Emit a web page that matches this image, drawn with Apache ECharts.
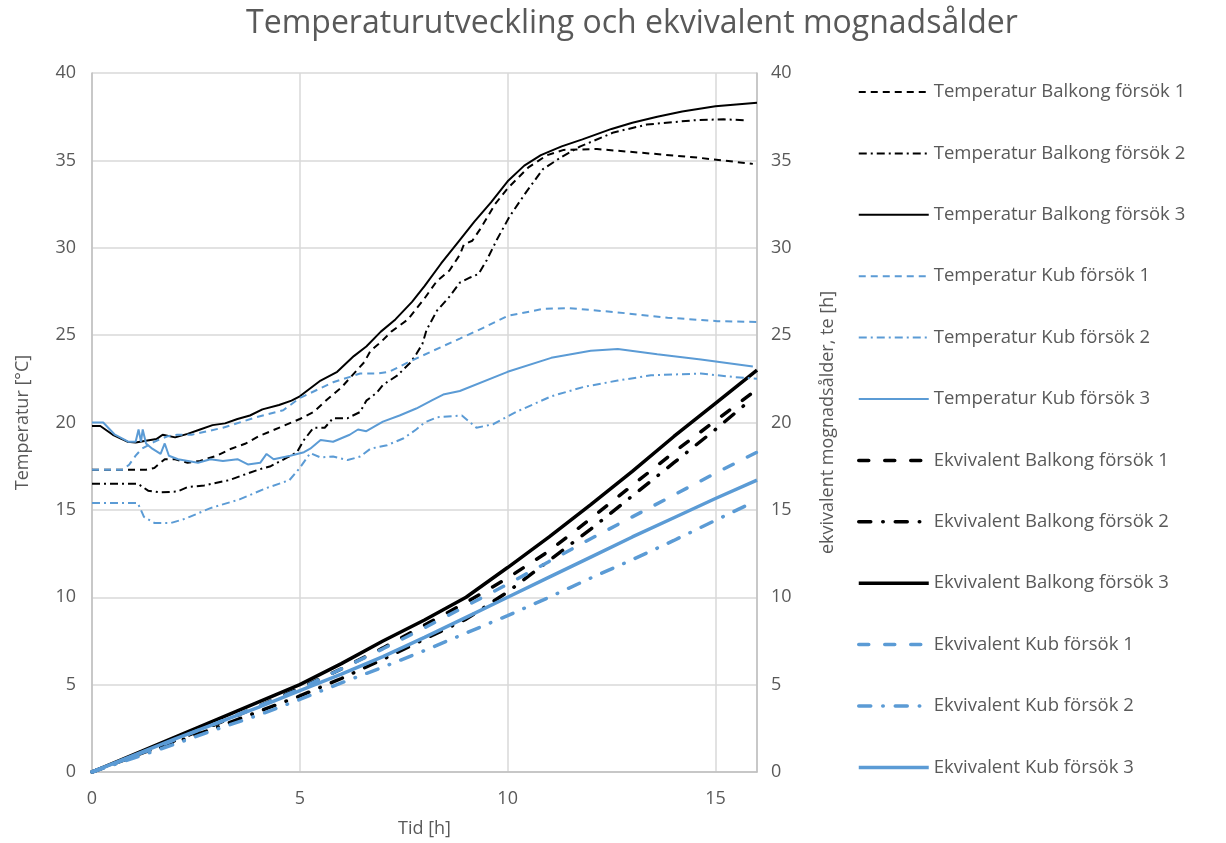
<!DOCTYPE html>
<html>
<head>
<meta charset="utf-8">
<script src="https://cdn.jsdelivr.net/npm/echarts@6/dist/echarts.min.js"></script>
<style>
html,body{margin:0;padding:0;background:#fff;}
#chart{width:1226px;height:843px;}
</style>
</head>
<body>
<div id="chart"></div>
<script>
// ---- Data: [time (h), value] ----
const xTicks = [0, 5, 10, 15];
const yTicks = [0, 5, 10, 15, 20, 25, 30, 35, 40];

const tempBalkong1 = [[0,17.3],[0.5,17.3],[1.0,17.3],[1.3,17.3],[1.5,17.4],[1.75,17.9],[2.0,17.9],[2.3,17.7],[2.6,17.8],[3.0,18.1],[3.35,18.5],[3.7,18.8],[4.0,19.2],[4.3,19.5],[4.6,19.8],[5.0,20.2],[5.33,20.6],[5.65,21.3],[6.0,22.0],[6.3,22.8],[6.55,23.45],[6.7,24.1],[6.95,24.6],[7.2,25.2],[7.6,25.9],[8.0,27.1],[8.3,28.1],[8.6,28.7],[8.85,29.6],[8.95,30.2],[9.15,30.4],[9.35,31.1],[9.7,32.5],[10.0,33.4],[10.5,34.6],[10.95,35.3],[11.35,35.6],[12.15,35.65],[13.4,35.4],[14.6,35.15],[15.9,34.8]];

const tempBalkong2 = [[0,16.5],[1.1,16.5],[1.35,16.1],[1.65,16.0],[2.05,16.05],[2.3,16.3],[2.7,16.4],[3.3,16.7],[4.0,17.3],[4.3,17.5],[4.7,18.0],[4.93,18.3],[5.1,19.0],[5.33,19.7],[5.6,19.7],[5.8,20.25],[6.15,20.25],[6.45,20.6],[6.6,21.25],[6.85,21.7],[7.0,22.15],[7.35,22.7],[7.65,23.4],[7.8,23.9],[7.95,24.5],[8.05,25.3],[8.3,26.4],[8.6,27.2],[8.85,28.0],[9.1,28.3],[9.3,28.5],[9.5,29.3],[9.75,30.5],[10.05,31.8],[10.45,33.2],[10.85,34.5],[11.3,35.2],[11.75,35.8],[12.55,36.6],[13.35,37.05],[14.5,37.3],[15.2,37.35],[15.7,37.3]];

const tempBalkong3 = [[0,19.8],[0.2,19.8],[0.5,19.3],[0.85,18.9],[1.05,18.85],[1.3,18.95],[1.55,19.05],[1.7,19.3],[2.0,19.15],[2.3,19.35],[2.6,19.6],[2.9,19.85],[3.2,19.95],[3.5,20.2],[3.8,20.4],[4.1,20.75],[4.5,21.0],[4.8,21.25],[5.0,21.5],[5.5,22.4],[5.9,22.9],[6.3,23.8],[6.6,24.35],[6.95,25.2],[7.3,25.9],[7.7,26.9],[8.0,27.8],[8.4,29.1],[8.8,30.3],[9.2,31.5],[9.6,32.6],[10.0,33.8],[10.4,34.7],[10.8,35.3],[11.3,35.8],[11.8,36.2],[12.5,36.8],[13.0,37.15],[13.6,37.5],[14.2,37.8],[15.0,38.1],[15.5,38.2],[16.0,38.3]];

const tempKub1 = [[0,17.3],[0.75,17.3],[0.9,17.6],[1.05,18.1],[1.2,18.5],[1.5,18.9],[1.8,19.2],[2.05,19.3],[2.4,19.3],[3.15,19.7],[3.95,20.3],[4.6,20.7],[5.0,21.4],[5.8,22.3],[6.45,22.8],[6.85,22.8],[7.15,22.9],[7.65,23.5],[8.2,24.1],[8.85,24.8],[9.4,25.4],[10.0,26.1],[10.85,26.5],[11.45,26.55],[12.65,26.3],[13.85,26.0],[15.05,25.8],[16.0,25.75]];

const tempKub2 = [[0,15.4],[1.1,15.4],[1.25,14.6],[1.5,14.25],[1.9,14.25],[2.25,14.5],[2.55,14.8],[2.85,15.1],[3.55,15.6],[4.2,16.25],[4.75,16.7],[5.0,17.4],[5.25,18.25],[5.5,18.0],[5.8,18.05],[6.15,17.85],[6.45,18.05],[6.7,18.5],[7.1,18.7],[7.5,19.1],[7.8,19.6],[8.0,20.0],[8.3,20.3],[8.9,20.4],[9.25,19.7],[9.65,19.9],[10.2,20.6],[11.05,21.5],[11.85,22.05],[12.65,22.4],[13.45,22.7],[14.65,22.8],[15.45,22.6],[16.0,22.5]];

const tempKub3 = [[0,20.0],[0.27,20.0],[0.55,19.3],[0.87,18.9],[1.05,18.9],[1.12,19.6],[1.18,18.9],[1.22,19.6],[1.3,18.8],[1.45,18.5],[1.65,18.2],[1.75,18.8],[1.85,18.1],[2.07,17.9],[2.55,17.7],[2.85,17.9],[3.15,17.8],[3.5,17.9],[3.75,17.6],[4.05,17.7],[4.2,18.2],[4.37,17.9],[4.77,18.1],[5.1,18.3],[5.25,18.5],[5.5,19.0],[5.8,18.9],[6.2,19.3],[6.4,19.6],[6.6,19.5],[7.0,20.05],[7.4,20.4],[7.8,20.8],[8.2,21.3],[8.45,21.6],[8.85,21.8],[10.0,22.9],[11.05,23.7],[12.0,24.1],[12.65,24.2],[13.6,23.9],[14.65,23.6],[15.9,23.2]];

const ekvBalkong1 = [[0,0],[1,0.9],[2,1.8],[3,2.75],[4,3.75],[5,4.8],[6,5.9],[7,7.1],[8,8.4],[9,9.7],[10,11.1],[11,12.65],[12,14.5],[13,16.4],[14,18.3],[15,20.1],[16,21.9]];
const ekvBalkong2 = [[0,0],[1,0.85],[2,1.7],[3,2.55],[4,3.45],[5,4.35],[6,5.35],[7,6.45],[8,7.6],[9,8.75],[10,10.3],[11,12.1],[12,13.9],[13,15.8],[14,17.7],[15,19.6],[15.75,21.1]];
const ekvBalkong3 = [[0,0],[1,1.0],[2,2.0],[3,3.0],[4,4.0],[5,5.0],[6,6.2],[7,7.5],[8,8.7],[9,10.0],[10,11.7],[11,13.45],[12,15.3],[13,17.2],[14,19.2],[15,21.1],[16,23.0]];
const ekvKub1 = [[0,0],[1,0.9],[2,1.85],[3,2.8],[4,3.75],[5,4.75],[6,5.9],[7,7.05],[8,8.25],[9,9.5],[10,10.75],[11,12.05],[12,13.35],[13,14.6],[14,15.85],[15,17.1],[16,18.3]];
const ekvKub2 = [[0,0],[1,0.8],[2,1.6],[3,2.45],[4,3.25],[5,4.15],[6,5.1],[7,6.0],[8,6.95],[9,7.95],[10,8.95],[11,10.0],[12,11.1],[13,12.15],[14,13.25],[15,14.4],[15.7,15.2]];
const ekvKub3 = [[0,0],[1,0.95],[2,1.9],[3,2.8],[4,3.7],[5,4.65],[6,5.6],[7,6.6],[8,7.7],[9,8.85],[10,10.0],[11,11.15],[12,12.3],[13,13.45],[14,14.55],[15,15.65],[16,16.7]];

const seriesNames = [
  'Temperatur Balkong försök 1','Temperatur Balkong försök 2','Temperatur Balkong försök 3',
  'Temperatur Kub försök 1','Temperatur Kub försök 2','Temperatur Kub försök 3',
  'Ekvivalent Balkong försök 1','Ekvivalent Balkong försök 2','Ekvivalent Balkong försök 3',
  'Ekvivalent Kub försök 1','Ekvivalent Kub försök 2','Ekvivalent Kub försök 3'
];
const seriesData = [tempBalkong1,tempBalkong2,tempBalkong3,tempKub1,tempKub2,tempKub3,
  ekvBalkong1,ekvBalkong2,ekvBalkong3,ekvKub1,ekvKub2,ekvKub3];

// ---- Styles ----
const BLACK = '#000000', BLUE = '#5B9BD5', TXT = '#595959';
const FONT = 'Open Sans';
const styles = [
  {c:BLACK, w:2, t:[7,5], ax:0},
  {c:BLACK, w:2, t:[8,4,2,4], ax:0},
  {c:BLACK, w:2, t:'solid', ax:0},
  {c:BLUE, w:2, t:[7,5], ax:0},
  {c:BLUE, w:2, t:[8,4,2,4], ax:0},
  {c:BLUE, w:2, t:'solid', ax:0},
  {c:BLACK, w:3.5, t:[10,16], ax:1, cap:'round'},
  {c:BLACK, w:3.5, t:[12,12,0.5,12], ax:1, cap:'round'},
  {c:BLACK, w:3.5, t:'solid', ax:1},
  {c:BLUE, w:3.5, t:[10,16], ax:1, cap:'round'},
  {c:BLUE, w:3.5, t:[12,12,0.5,12], ax:1, cap:'round'},
  {c:BLUE, w:3.5, t:'solid', ax:1}
];

const series = seriesNames.map((name, i) => ({
  name: name,
  type: 'line',
  yAxisIndex: styles[i].ax,
  data: seriesData[i],
  showSymbol: false,
  symbol: 'none',
  smooth: false,
  animation: false,
  lineStyle: {color: styles[i].c, width: styles[i].w, type: styles[i].t, cap: styles[i].cap || 'butt'},
  itemStyle: {color: styles[i].c},
  z: i < 6 ? 3 : 2
}));

const legendData = seriesNames.map((name, i) => ({
  name: name,
  lineStyle: {color: styles[i].c, width: styles[i].w, type: styles[i].t, cap: styles[i].cap || 'butt'}
}));

const chart = echarts.init(document.getElementById('chart'), null, {renderer: 'canvas'});
chart.setOption({
  backgroundColor: '#ffffff',
  animation: false,
  textStyle: {fontFamily: FONT},
  title: {
    text: 'Temperaturutveckling och ekvivalent mognadsålder',
    left: 627, top: 3, textAlign: 'center',
    textStyle: {fontFamily: FONT, fontSize: 32, fontWeight: 'normal', color: TXT}
  },
  grid: {left: 92, right: 469, top: 73, bottom: 71, containLabel: false},
  legend: {
    orient: 'vertical',
    left: 852, top: 77,
    itemWidth: 70, itemHeight: 20, itemGap: 41.4,
    itemStyle: {opacity: 0},
    textStyle: {fontFamily: FONT, fontSize: 18.5, color: TXT, lineHeight: 20},
    data: legendData
  },
  xAxis: {
    type: 'value', min: 0, max: 16, interval: 5,
    name: 'Tid [h]', nameLocation: 'middle', nameGap: 48,
    nameTextStyle: {fontFamily: FONT, fontSize: 18, color: TXT},
    axisLine: {show: true, lineStyle: {color: '#bfbfbf', width: 1.5}},
    axisTick: {show: false},
    axisLabel: {color: TXT, fontSize: 18, fontFamily: FONT, margin: 18, showMaxLabel: false},
    splitLine: {show: true, lineStyle: {color: '#d9d9d9', width: 1.5}}
  },
  yAxis: [
    {
      type: 'value', min: 0, max: 40, interval: 5, position: 'left',
      name: 'Temperatur [°C]', nameLocation: 'middle', nameGap: 60,
      nameTextStyle: {fontFamily: FONT, fontSize: 18, color: TXT},
      axisLine: {show: true, lineStyle: {color: '#bfbfbf', width: 1.5}},
      axisTick: {show: false},
      axisLabel: {color: TXT, fontSize: 18, fontFamily: FONT, margin: 16},
      splitLine: {show: true, lineStyle: {color: '#d9d9d9', width: 1.5}}
    },
    {
      type: 'value', min: 0, max: 40, interval: 5, position: 'right',
      name: 'ekvivalent mognadsålder, te [h]', nameLocation: 'middle', nameGap: 62, nameRotate: 90,
      nameTextStyle: {fontFamily: FONT, fontSize: 18, color: TXT},
      axisLine: {show: true, lineStyle: {color: '#bfbfbf', width: 1.5}},
      axisTick: {show: false},
      axisLabel: {color: TXT, fontSize: 18, fontFamily: FONT, margin: 14},
      splitLine: {show: false}
    }
  ],
  series: series
});
</script>
</body>
</html>
